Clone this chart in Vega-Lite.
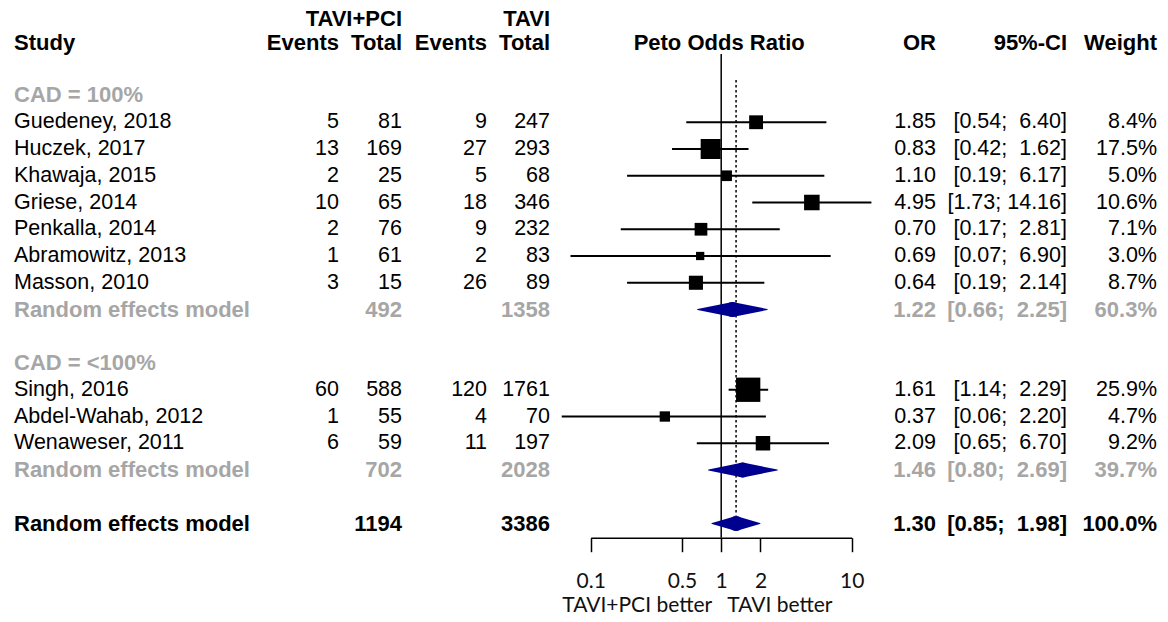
{
  "$schema": "https://vega.github.io/schema/vega-lite/v6.json",
  "width": 1168,
  "height": 622,
  "autosize": {"type": "none"},
  "padding": 0,
  "background": "white",
  "config": {"view": {"stroke": null}},
  "datasets": {
    "main": [
      {"row": -2.87, "kind": "header", "study": "", "e1": "", "n1": "TAVI+PCI", "e2": "", "n2": "TAVI", "orT": "", "ciT": "", "wT": ""},
      {"row": -1.95, "kind": "header", "study": "Study", "e1": "Events", "n1": "Total", "e2": "Events", "n2": "Total", "orT": "OR", "ciT": "95%-CI", "wT": "Weight"},
      {"row": 0, "kind": "group", "study": "CAD = 100%", "e1": "", "n1": "", "e2": "", "n2": "", "orT": "", "ciT": "", "wT": ""},
      {"row": 1, "kind": "study", "study": "Guedeney, 2018", "e1": "5", "n1": "81", "e2": "9", "n2": "247", "est": 1.85, "lo": 0.54, "hi": 6.40, "w": 8.4, "orT": "1.85", "ciT": "[0.54;\u00a0 6.40]", "wT": "8.4%"},
      {"row": 2, "kind": "study", "study": "Huczek, 2017", "e1": "13", "n1": "169", "e2": "27", "n2": "293", "est": 0.83, "lo": 0.42, "hi": 1.62, "w": 17.5, "orT": "0.83", "ciT": "[0.42;\u00a0 1.62]", "wT": "17.5%"},
      {"row": 3, "kind": "study", "study": "Khawaja, 2015", "e1": "2", "n1": "25", "e2": "5", "n2": "68", "est": 1.10, "lo": 0.19, "hi": 6.17, "w": 5.0, "orT": "1.10", "ciT": "[0.19;\u00a0 6.17]", "wT": "5.0%"},
      {"row": 4, "kind": "study", "study": "Griese, 2014", "e1": "10", "n1": "65", "e2": "18", "n2": "346", "est": 4.95, "lo": 1.73, "hi": 14.16, "w": 10.6, "orT": "4.95", "ciT": "[1.73; 14.16]", "wT": "10.6%"},
      {"row": 5, "kind": "study", "study": "Penkalla, 2014", "e1": "2", "n1": "76", "e2": "9", "n2": "232", "est": 0.70, "lo": 0.17, "hi": 2.81, "w": 7.1, "orT": "0.70", "ciT": "[0.17;\u00a0 2.81]", "wT": "7.1%"},
      {"row": 6, "kind": "study", "study": "Abramowitz, 2013", "e1": "1", "n1": "61", "e2": "2", "n2": "83", "est": 0.69, "lo": 0.07, "hi": 6.90, "w": 3.0, "orT": "0.69", "ciT": "[0.07;\u00a0 6.90]", "wT": "3.0%"},
      {"row": 7, "kind": "study", "study": "Masson, 2010", "e1": "3", "n1": "15", "e2": "26", "n2": "89", "est": 0.64, "lo": 0.19, "hi": 2.14, "w": 8.7, "orT": "0.64", "ciT": "[0.19;\u00a0 2.14]", "wT": "8.7%"},
      {"row": 8, "kind": "sub", "study": "Random effects model", "e1": "", "n1": "492", "e2": "", "n2": "1358", "est": 1.22, "lo": 0.66, "hi": 2.25, "orT": "1.22", "ciT": "[0.66;\u00a0 2.25]", "wT": "60.3%"},
      {"row": 10, "kind": "group", "study": "CAD = <100%", "e1": "", "n1": "", "e2": "", "n2": "", "orT": "", "ciT": "", "wT": ""},
      {"row": 11, "kind": "study", "study": "Singh, 2016", "e1": "60", "n1": "588", "e2": "120", "n2": "1761", "est": 1.61, "lo": 1.14, "hi": 2.29, "w": 25.9, "orT": "1.61", "ciT": "[1.14;\u00a0 2.29]", "wT": "25.9%"},
      {"row": 12, "kind": "study", "study": "Abdel-Wahab, 2012", "e1": "1", "n1": "55", "e2": "4", "n2": "70", "est": 0.37, "lo": 0.06, "hi": 2.20, "w": 4.7, "orT": "0.37", "ciT": "[0.06;\u00a0 2.20]", "wT": "4.7%"},
      {"row": 13, "kind": "study", "study": "Wenaweser, 2011", "e1": "6", "n1": "59", "e2": "11", "n2": "197", "est": 2.09, "lo": 0.65, "hi": 6.70, "w": 9.2, "orT": "2.09", "ciT": "[0.65;\u00a0 6.70]", "wT": "9.2%"},
      {"row": 14, "kind": "sub", "study": "Random effects model", "e1": "", "n1": "702", "e2": "", "n2": "2028", "est": 1.46, "lo": 0.80, "hi": 2.69, "orT": "1.46", "ciT": "[0.80;\u00a0 2.69]", "wT": "39.7%"},
      {"row": 16, "kind": "overall", "study": "Random effects model", "e1": "", "n1": "1194", "e2": "", "n2": "3386", "est": 1.30, "lo": 0.85, "hi": 1.98, "orT": "1.30", "ciT": "[0.85;\u00a0 1.98]", "wT": "100.0%"}
    ]
  },
  "data": {"name": "main"},
  "encoding": {
    "y": {"field": "row", "type": "quantitative", "scale": {"domain": [-3.57, 19.682], "range": [0, 622], "nice": false, "zero": false}, "axis": null}
  },
  "layer": [
    {
      "layer": [
        {
          "mark": {"type": "text", "align": "left", "baseline": "middle", "font": "Liberation Sans", "fontSize": {"expr": "datum.kind == 'study' ? 21.5 : 22"}, "fontWeight": {"expr": "datum.kind == 'study' ? 'normal' : 'bold'"}},
          "encoding": {
            "x": {"datum": 14, "type": "quantitative", "scale": {"domain": [0, 1168], "range": [0, 1168], "nice": false, "zero": false}, "axis": null},
            "text": {"field": "study", "type": "nominal"},
            "color": {"field": "kind", "type": "nominal", "scale": {"domain": ["header", "group", "study", "sub", "overall"], "range": ["#000000", "#a6a6a6", "#000000", "#a6a6a6", "#000000"]}, "legend": null}
          }
        },
        {
          "mark": {"type": "text", "align": "right", "baseline": "middle", "font": "Liberation Sans", "fontSize": {"expr": "datum.kind == 'study' ? 21.5 : 22"}, "fontWeight": {"expr": "datum.kind == 'study' ? 'normal' : 'bold'"}},
          "encoding": {
            "x": {"datum": 339, "type": "quantitative", "scale": {"domain": [0, 1168], "range": [0, 1168], "nice": false, "zero": false}, "axis": null},
            "text": {"field": "e1", "type": "nominal"},
            "color": {"field": "kind", "type": "nominal", "scale": {"domain": ["header", "group", "study", "sub", "overall"], "range": ["#000000", "#a6a6a6", "#000000", "#a6a6a6", "#000000"]}, "legend": null}
          }
        },
        {
          "mark": {"type": "text", "align": "right", "baseline": "middle", "font": "Liberation Sans", "fontSize": {"expr": "datum.kind == 'study' ? 21.5 : 22"}, "fontWeight": {"expr": "datum.kind == 'study' ? 'normal' : 'bold'"}},
          "encoding": {
            "x": {"datum": 402, "type": "quantitative", "scale": {"domain": [0, 1168], "range": [0, 1168], "nice": false, "zero": false}, "axis": null},
            "text": {"field": "n1", "type": "nominal"},
            "color": {"field": "kind", "type": "nominal", "scale": {"domain": ["header", "group", "study", "sub", "overall"], "range": ["#000000", "#a6a6a6", "#000000", "#a6a6a6", "#000000"]}, "legend": null}
          }
        },
        {
          "mark": {"type": "text", "align": "right", "baseline": "middle", "font": "Liberation Sans", "fontSize": {"expr": "datum.kind == 'study' ? 21.5 : 22"}, "fontWeight": {"expr": "datum.kind == 'study' ? 'normal' : 'bold'"}},
          "encoding": {
            "x": {"datum": 487, "type": "quantitative", "scale": {"domain": [0, 1168], "range": [0, 1168], "nice": false, "zero": false}, "axis": null},
            "text": {"field": "e2", "type": "nominal"},
            "color": {"field": "kind", "type": "nominal", "scale": {"domain": ["header", "group", "study", "sub", "overall"], "range": ["#000000", "#a6a6a6", "#000000", "#a6a6a6", "#000000"]}, "legend": null}
          }
        },
        {
          "mark": {"type": "text", "align": "right", "baseline": "middle", "font": "Liberation Sans", "fontSize": {"expr": "datum.kind == 'study' ? 21.5 : 22"}, "fontWeight": {"expr": "datum.kind == 'study' ? 'normal' : 'bold'"}},
          "encoding": {
            "x": {"datum": 550, "type": "quantitative", "scale": {"domain": [0, 1168], "range": [0, 1168], "nice": false, "zero": false}, "axis": null},
            "text": {"field": "n2", "type": "nominal"},
            "color": {"field": "kind", "type": "nominal", "scale": {"domain": ["header", "group", "study", "sub", "overall"], "range": ["#000000", "#a6a6a6", "#000000", "#a6a6a6", "#000000"]}, "legend": null}
          }
        },
        {
          "mark": {"type": "text", "align": "right", "baseline": "middle", "font": "Liberation Sans", "fontSize": {"expr": "datum.kind == 'study' ? 21.5 : 22"}, "fontWeight": {"expr": "datum.kind == 'study' ? 'normal' : 'bold'"}},
          "encoding": {
            "x": {"datum": 936, "type": "quantitative", "scale": {"domain": [0, 1168], "range": [0, 1168], "nice": false, "zero": false}, "axis": null},
            "text": {"field": "orT", "type": "nominal"},
            "color": {"field": "kind", "type": "nominal", "scale": {"domain": ["header", "group", "study", "sub", "overall"], "range": ["#000000", "#a6a6a6", "#000000", "#a6a6a6", "#000000"]}, "legend": null}
          }
        },
        {
          "mark": {"type": "text", "align": "right", "baseline": "middle", "font": "Liberation Sans", "fontSize": {"expr": "datum.kind == 'study' ? 21.5 : 22"}, "fontWeight": {"expr": "datum.kind == 'study' ? 'normal' : 'bold'"}},
          "encoding": {
            "x": {"datum": 1067, "type": "quantitative", "scale": {"domain": [0, 1168], "range": [0, 1168], "nice": false, "zero": false}, "axis": null},
            "text": {"field": "ciT", "type": "nominal"},
            "color": {"field": "kind", "type": "nominal", "scale": {"domain": ["header", "group", "study", "sub", "overall"], "range": ["#000000", "#a6a6a6", "#000000", "#a6a6a6", "#000000"]}, "legend": null}
          }
        },
        {
          "mark": {"type": "text", "align": "right", "baseline": "middle", "font": "Liberation Sans", "fontSize": {"expr": "datum.kind == 'study' ? 21.5 : 22"}, "fontWeight": {"expr": "datum.kind == 'study' ? 'normal' : 'bold'"}},
          "encoding": {
            "x": {"datum": 1157, "type": "quantitative", "scale": {"domain": [0, 1168], "range": [0, 1168], "nice": false, "zero": false}, "axis": null},
            "text": {"field": "wT", "type": "nominal"},
            "color": {"field": "kind", "type": "nominal", "scale": {"domain": ["header", "group", "study", "sub", "overall"], "range": ["#000000", "#a6a6a6", "#000000", "#a6a6a6", "#000000"]}, "legend": null}
          }
        }
      ]
    },
    {
      "layer": [
        {
          "transform": [{"filter": "datum.kind == 'study'"}],
          "mark": {"type": "rule", "color": "#000000", "strokeWidth": 1.8},
          "encoding": {
            "x": {"field": "lo", "type": "quantitative", "scale": {"type": "log", "domain": [0.1, 10], "range": [590.7, 851.7], "nice": false},
              "axis": {"values": [0.1, 0.5, 1, 2, 10], "format": "~g", "title": null, "grid": false, "domainColor": "#000000", "domainWidth": 1.5, "tickColor": "#000000", "tickWidth": 1.5, "tickSize": 14, "labelFont": "Lato", "labelFontSize": 21, "labelColor": "#111111", "labelPadding": 19, "labelFlush": false, "labelOverlap": false, "offset": -84.3}},
            "x2": {"field": "hi"}
          }
        },
        {
          "transform": [{"filter": "datum.kind == 'study'"}],
          "mark": {"type": "square", "color": "#000000", "opacity": 1, "strokeWidth": 0},
          "encoding": {
            "x": {"field": "est", "type": "quantitative", "scale": {"type": "log", "domain": [0.1, 10], "range": [590.7, 851.7], "nice": false}},
            "size": {"field": "w", "type": "quantitative", "scale": {"type": "linear", "domain": [0, 25.9], "range": [0, 590], "zero": true}, "legend": null}
          }
        },
        {
          "transform": [{"filter": "datum.kind == 'overall'"}],
          "mark": {"type": "rule", "color": "#000000", "strokeWidth": 1.5},
          "encoding": {
            "x": {"datum": 1, "type": "quantitative", "scale": {"type": "log", "domain": [0.1, 10], "range": [590.7, 851.7], "nice": false}},
            "y": {"datum": -1.55, "type": "quantitative", "scale": {"domain": [-3.57, 19.682], "range": [0, 622], "nice": false, "zero": false}, "axis": null},
            "y2": {"datum": 16.53}
          }
        },
        {
          "transform": [{"filter": "datum.kind == 'overall'"}],
          "mark": {"type": "rule", "color": "#000000", "strokeWidth": 1.5, "strokeDash": [2.5, 2.5]},
          "encoding": {
            "x": {"field": "est", "type": "quantitative", "scale": {"type": "log", "domain": [0.1, 10], "range": [590.7, 851.7], "nice": false}},
            "y": {"datum": -0.58, "type": "quantitative", "scale": {"domain": [-3.57, 19.682], "range": [0, 622], "nice": false, "zero": false}, "axis": null},
            "y2": {"datum": 15.7}
          }
        },
        {
          "transform": [{"filter": "datum.kind == 'sub' || datum.kind == 'overall'"}, {"fold": ["lo", "est"], "as": ["k", "v"]}],
          "mark": {"type": "trail", "color": "#000090"},
          "encoding": {
            "x": {"field": "v", "type": "quantitative", "scale": {"type": "log", "domain": [0.1, 10], "range": [590.7, 851.7], "nice": false}},
            "detail": {"field": "row", "type": "nominal"},
            "size": {"field": "k", "type": "ordinal", "scale": {"type": "point", "domain": ["lo", "est"], "range": [0, 15], "padding": 0}, "legend": null}
          }
        },
        {
          "transform": [{"filter": "datum.kind == 'sub' || datum.kind == 'overall'"}, {"fold": ["hi", "est"], "as": ["k", "v"]}],
          "mark": {"type": "trail", "color": "#000090"},
          "encoding": {
            "x": {"field": "v", "type": "quantitative", "scale": {"type": "log", "domain": [0.1, 10], "range": [590.7, 851.7], "nice": false}},
            "detail": {"field": "row", "type": "nominal"},
            "size": {"field": "k", "type": "ordinal", "scale": {"type": "point", "domain": ["hi", "est"], "range": [0, 15], "padding": 0}, "legend": null}
          }
        },
        {
          "transform": [{"filter": "datum.kind == 'overall'"}],
          "mark": {"type": "text", "text": "Peto Odds Ratio", "align": "center", "baseline": "middle", "font": "Liberation Sans", "fontSize": 22, "fontWeight": "bold", "color": "#000000", "dx": -2},
          "encoding": {
            "x": {"datum": 1, "type": "quantitative", "scale": {"type": "log", "domain": [0.1, 10], "range": [590.7, 851.7], "nice": false}},
            "y": {"datum": -1.95, "type": "quantitative", "scale": {"domain": [-3.57, 19.682], "range": [0, 622], "nice": false, "zero": false}, "axis": null}
          }
        },
        {
          "transform": [{"filter": "datum.kind == 'overall'"}],
          "mark": {"type": "text", "text": "TAVI+PCI better", "align": "right", "baseline": "middle", "font": "Lato", "fontSize": 21, "color": "#111111", "dx": -9},
          "encoding": {
            "x": {"datum": 1, "type": "quantitative", "scale": {"type": "log", "domain": [0.1, 10], "range": [590.7, 851.7], "nice": false}},
            "y": {"datum": 19.08, "type": "quantitative", "scale": {"domain": [-3.57, 19.682], "range": [0, 622], "nice": false, "zero": false}, "axis": null}
          }
        },
        {
          "transform": [{"filter": "datum.kind == 'overall'"}],
          "mark": {"type": "text", "text": "TAVI better", "align": "left", "baseline": "middle", "font": "Lato", "fontSize": 21, "color": "#111111", "dx": 6},
          "encoding": {
            "x": {"datum": 1, "type": "quantitative", "scale": {"type": "log", "domain": [0.1, 10], "range": [590.7, 851.7], "nice": false}},
            "y": {"datum": 19.08, "type": "quantitative", "scale": {"domain": [-3.57, 19.682], "range": [0, 622], "nice": false, "zero": false}, "axis": null}
          }
        }
      ],
      "resolve": {"scale": {"size": "independent"}}
    }
  ],
  "resolve": {"scale": {"x": "independent"}}
}
